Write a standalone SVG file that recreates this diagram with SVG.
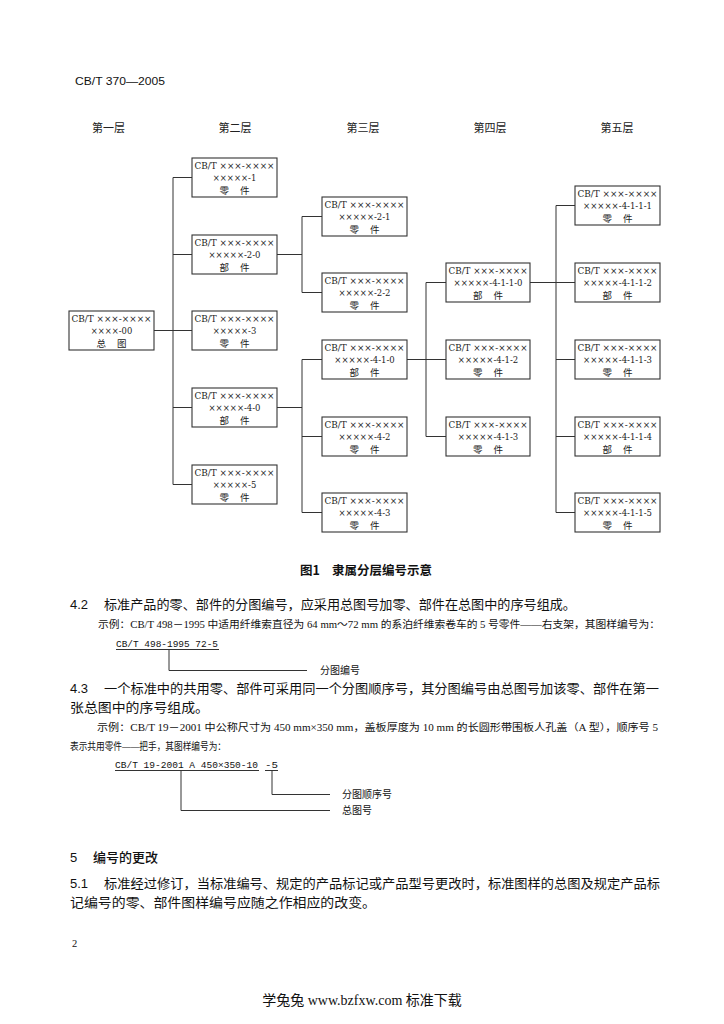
<svg xmlns="http://www.w3.org/2000/svg" width="724" height="1024" viewBox="0 0 724 1024">
<style>
.box{fill:#fff;stroke:#333;stroke-width:1.1}
.ln{stroke:#333;stroke-width:1;fill:none}
.t1{font-family:"DejaVu Serif","Liberation Serif",serif;font-size:8.5px;fill:#222}
.tc{text-anchor:middle}
.cjk{font-family:"Noto Sans CJK SC",sans-serif;font-size:9.5px;fill:#222}
.body{font-family:"Liberation Serif","Noto Sans CJK SC",serif;font-size:13px;fill:#111}
.small{font-family:"Liberation Serif","Noto Sans CJK SC",serif;font-size:10px;fill:#111}
.code{font-family:"Liberation Mono","Noto Sans CJK SC",monospace;font-size:9.5px;fill:#111}
.num{font-family:"Liberation Sans","Noto Sans CJK SC",sans-serif;font-size:13px;fill:#111}
.hd{font-family:"Noto Sans CJK SC",sans-serif;font-size:13px;fill:#111;font-weight:500}
.layer{font-family:"Noto Sans CJK SC",sans-serif;font-size:11px;fill:#222;text-anchor:middle}
</style>
<rect width="724" height="1024" fill="#fff"/>
<text x="75" y="85" font-family="Liberation Sans, sans-serif" font-size="11" fill="#111" textLength="90" lengthAdjust="spacingAndGlyphs">CB/T 370—2005</text>
<g id="layers">
<text class="layer" x="108.5" y="132">第一层</text>
<text class="layer" x="235" y="132">第二层</text>
<text class="layer" x="363" y="132">第三层</text>
<text class="layer" x="490" y="132">第四层</text>
<text class="layer" x="617" y="132">第五层</text>
</g>
<g id="connectors">
<path class="ln" d="M154 330.5H192M173 177.5V484.5M173 177.5H192M173 254.5H192M173 407.5H192M173 484.5H192"/>
<path class="ln" d="M277 254.5H302M302 216.5V292.5M302 216.5H322M302 292.5H322"/>
<path class="ln" d="M277 407.5H302M302 359.5V512.5M302 359.5H322M302 436.5H322M302 512.5H322"/>
<path class="ln" d="M407 359.5H426M426 282.5V436.5M426 282.5H446M426 359.5H446M426 436.5H446"/>
<path class="ln" d="M530 282.5H556M556 205.5V512.5M556 205.5H575M556 282.5H575M556 359.5H575M556 436.5H575M556 512.5H575"/>
</g>
<g id="n-00"><rect class="box" x="69" y="311" width="85" height="39"/><text class="t1" x="71.5" y="322" textLength="80" lengthAdjust="spacingAndGlyphs">CB/T ×××-××××</text><text class="t1 tc" x="111.5" y="334" textLength="41.5" lengthAdjust="spacingAndGlyphs">××××-00</text><text class="cjk tc" x="111.5" y="346.5" textLength="30" lengthAdjust="spacing">总 图</text></g>
<g id="n-1"><rect class="box" x="192" y="158" width="85" height="39"/><text class="t1" x="194.5" y="169" textLength="80" lengthAdjust="spacingAndGlyphs">CB/T ×××-××××</text><text class="t1 tc" x="234.5" y="181" textLength="43.5" lengthAdjust="spacingAndGlyphs">×××××-1</text><text class="cjk tc" x="234.5" y="193.5" textLength="30" lengthAdjust="spacing">零 件</text></g>
<g id="n-2-0"><rect class="box" x="192" y="235" width="85" height="39"/><text class="t1" x="194.5" y="246" textLength="80" lengthAdjust="spacingAndGlyphs">CB/T ×××-××××</text><text class="t1 tc" x="234.5" y="258" textLength="52" lengthAdjust="spacingAndGlyphs">×××××-2-0</text><text class="cjk tc" x="234.5" y="270.5" textLength="30" lengthAdjust="spacing">部 件</text></g>
<g id="n-3"><rect class="box" x="192" y="311" width="85" height="39"/><text class="t1" x="194.5" y="322" textLength="80" lengthAdjust="spacingAndGlyphs">CB/T ×××-××××</text><text class="t1 tc" x="234.5" y="334" textLength="43.5" lengthAdjust="spacingAndGlyphs">×××××-3</text><text class="cjk tc" x="234.5" y="346.5" textLength="30" lengthAdjust="spacing">零 件</text></g>
<g id="n-4-0"><rect class="box" x="192" y="388" width="85" height="39"/><text class="t1" x="194.5" y="399" textLength="80" lengthAdjust="spacingAndGlyphs">CB/T ×××-××××</text><text class="t1 tc" x="234.5" y="411" textLength="52" lengthAdjust="spacingAndGlyphs">×××××-4-0</text><text class="cjk tc" x="234.5" y="423.5" textLength="30" lengthAdjust="spacing">部 件</text></g>
<g id="n-5"><rect class="box" x="192" y="465" width="85" height="39"/><text class="t1" x="194.5" y="476" textLength="80" lengthAdjust="spacingAndGlyphs">CB/T ×××-××××</text><text class="t1 tc" x="234.5" y="488" textLength="43.5" lengthAdjust="spacingAndGlyphs">×××××-5</text><text class="cjk tc" x="234.5" y="500.5" textLength="30" lengthAdjust="spacing">零 件</text></g>
<g id="n-2-1"><rect class="box" x="322" y="197" width="85" height="39"/><text class="t1" x="324.5" y="208" textLength="80" lengthAdjust="spacingAndGlyphs">CB/T ×××-××××</text><text class="t1 tc" x="364.5" y="220" textLength="52" lengthAdjust="spacingAndGlyphs">×××××-2-1</text><text class="cjk tc" x="364.5" y="232.5" textLength="30" lengthAdjust="spacing">零 件</text></g>
<g id="n-2-2"><rect class="box" x="322" y="273" width="85" height="39"/><text class="t1" x="324.5" y="284" textLength="80" lengthAdjust="spacingAndGlyphs">CB/T ×××-××××</text><text class="t1 tc" x="364.5" y="296" textLength="52" lengthAdjust="spacingAndGlyphs">×××××-2-2</text><text class="cjk tc" x="364.5" y="308.5" textLength="30" lengthAdjust="spacing">零 件</text></g>
<g id="n-4-1-0"><rect class="box" x="322" y="340" width="85" height="39"/><text class="t1" x="324.5" y="351" textLength="80" lengthAdjust="spacingAndGlyphs">CB/T ×××-××××</text><text class="t1 tc" x="364.5" y="363" textLength="60.5" lengthAdjust="spacingAndGlyphs">×××××-4-1-0</text><text class="cjk tc" x="364.5" y="375.5" textLength="30" lengthAdjust="spacing">部 件</text></g>
<g id="n-4-2"><rect class="box" x="322" y="417" width="85" height="39"/><text class="t1" x="324.5" y="428" textLength="80" lengthAdjust="spacingAndGlyphs">CB/T ×××-××××</text><text class="t1 tc" x="364.5" y="440" textLength="52" lengthAdjust="spacingAndGlyphs">×××××-4-2</text><text class="cjk tc" x="364.5" y="452.5" textLength="30" lengthAdjust="spacing">零 件</text></g>
<g id="n-4-3"><rect class="box" x="322" y="493" width="85" height="39"/><text class="t1" x="324.5" y="504" textLength="80" lengthAdjust="spacingAndGlyphs">CB/T ×××-××××</text><text class="t1 tc" x="364.5" y="516" textLength="52" lengthAdjust="spacingAndGlyphs">×××××-4-3</text><text class="cjk tc" x="364.5" y="528.5" textLength="30" lengthAdjust="spacing">零 件</text></g>
<g id="n-4-1-1-0"><rect class="box" x="446" y="263" width="84" height="39"/><text class="t1" x="448.5" y="274" textLength="79" lengthAdjust="spacingAndGlyphs">CB/T ×××-××××</text><text class="t1 tc" x="488" y="286" textLength="69" lengthAdjust="spacingAndGlyphs">×××××-4-1-1-0</text><text class="cjk tc" x="488" y="298.5" textLength="30" lengthAdjust="spacing">部 件</text></g>
<g id="n-4-1-2"><rect class="box" x="446" y="340" width="84" height="39"/><text class="t1" x="448.5" y="351" textLength="79" lengthAdjust="spacingAndGlyphs">CB/T ×××-××××</text><text class="t1 tc" x="488" y="363" textLength="60.5" lengthAdjust="spacingAndGlyphs">×××××-4-1-2</text><text class="cjk tc" x="488" y="375.5" textLength="30" lengthAdjust="spacing">零 件</text></g>
<g id="n-4-1-3"><rect class="box" x="446" y="417" width="84" height="39"/><text class="t1" x="448.5" y="428" textLength="79" lengthAdjust="spacingAndGlyphs">CB/T ×××-××××</text><text class="t1 tc" x="488" y="440" textLength="60.5" lengthAdjust="spacingAndGlyphs">×××××-4-1-3</text><text class="cjk tc" x="488" y="452.5" textLength="30" lengthAdjust="spacing">零 件</text></g>
<g id="n-4-1-1-1"><rect class="box" x="575" y="186" width="85" height="39"/><text class="t1" x="577.5" y="197" textLength="80" lengthAdjust="spacingAndGlyphs">CB/T ×××-××××</text><text class="t1 tc" x="617.5" y="209" textLength="69" lengthAdjust="spacingAndGlyphs">×××××-4-1-1-1</text><text class="cjk tc" x="617.5" y="221.5" textLength="30" lengthAdjust="spacing">零 件</text></g>
<g id="n-4-1-1-2"><rect class="box" x="575" y="263" width="85" height="39"/><text class="t1" x="577.5" y="274" textLength="80" lengthAdjust="spacingAndGlyphs">CB/T ×××-××××</text><text class="t1 tc" x="617.5" y="286" textLength="69" lengthAdjust="spacingAndGlyphs">×××××-4-1-1-2</text><text class="cjk tc" x="617.5" y="298.5" textLength="30" lengthAdjust="spacing">部 件</text></g>
<g id="n-4-1-1-3"><rect class="box" x="575" y="340" width="85" height="39"/><text class="t1" x="577.5" y="351" textLength="80" lengthAdjust="spacingAndGlyphs">CB/T ×××-××××</text><text class="t1 tc" x="617.5" y="363" textLength="69" lengthAdjust="spacingAndGlyphs">×××××-4-1-1-3</text><text class="cjk tc" x="617.5" y="375.5" textLength="30" lengthAdjust="spacing">零 件</text></g>
<g id="n-4-1-1-4"><rect class="box" x="575" y="417" width="85" height="39"/><text class="t1" x="577.5" y="428" textLength="80" lengthAdjust="spacingAndGlyphs">CB/T ×××-××××</text><text class="t1 tc" x="617.5" y="440" textLength="69" lengthAdjust="spacingAndGlyphs">×××××-4-1-1-4</text><text class="cjk tc" x="617.5" y="452.5" textLength="30" lengthAdjust="spacing">部 件</text></g>
<g id="n-4-1-1-5"><rect class="box" x="575" y="493" width="85" height="39"/><text class="t1" x="577.5" y="504" textLength="80" lengthAdjust="spacingAndGlyphs">CB/T ×××-××××</text><text class="t1 tc" x="617.5" y="516" textLength="69" lengthAdjust="spacingAndGlyphs">×××××-4-1-1-5</text><text class="cjk tc" x="617.5" y="528.5" textLength="30" lengthAdjust="spacing">零 件</text></g>
<g id="caption"><text font-family="Noto Sans CJK SC, sans-serif" font-size="12.5" font-weight="bold" fill="#111" y="575"><tspan x="300">图1</tspan><tspan x="332" textLength="100" lengthAdjust="spacing">隶属分层编号示意</tspan></text></g>
<g id="sec4-2">
<text class="num" x="70" y="609">4.2</text>
<text class="body" x="104" y="609" textLength="472" lengthAdjust="spacingAndGlyphs">标准产品的零、部件的分图编号，应采用总图号加零、部件在总图中的序号组成。</text>
<text class="small" x="98" y="628" textLength="562" lengthAdjust="spacingAndGlyphs">示例：CB/T 498－1995 中适用纤维索直径为 64 mm～72 mm 的系泊纤维索卷车的 5 号零件——右支架，其图样编号为：</text>
<text class="code" x="116" y="647" textLength="102" lengthAdjust="spacingAndGlyphs">CB/T 498-1995 72-5</text>
<path class="ln" d="M116 649.5H219M169 649.5V670.5H307"/>
<text class="small" x="320" y="674" font-size="10.5">分图编号</text>
</g>
<g id="sec4-3">
<text class="num" x="70" y="693">4.3</text>
<text class="body" x="104" y="693" textLength="555" lengthAdjust="spacingAndGlyphs">一个标准中的共用零、部件可采用同一个分图顺序号，其分图编号由总图号加该零、部件在第一</text>
<text class="body" x="70" y="712" textLength="139" lengthAdjust="spacingAndGlyphs">张总图中的序号组成。</text>
<text class="small" x="97" y="731" textLength="561" lengthAdjust="spacingAndGlyphs">示例：CB/T 19－2001 中公称尺寸为 450 mm×350 mm，盖板厚度为 10 mm 的长圆形带围板人孔盖（A 型），顺序号 5</text>
<text class="small" x="70" y="750" textLength="156" lengthAdjust="spacingAndGlyphs">表示共用零件——把手，其图样编号为：</text>
<text class="code" x="115" y="768" textLength="143" lengthAdjust="spacingAndGlyphs">CB/T 19-2001 A 450×350-10</text>
<text class="code" x="265" y="768" textLength="13" lengthAdjust="spacingAndGlyphs">-5</text>
<path class="ln" d="M115 770.5H259M265 770.5H278M272 770.5V794.5H330M181 770.5V810.5H330"/>
<text class="small" x="342" y="798" font-size="10.5">分图顺序号</text>
<text class="small" x="342" y="814" font-size="10.5">总图号</text>
</g>
<g id="sec5">
<text class="num" x="70" y="862">5</text>
<text class="hd" x="93" y="862">编号的更改</text>
<text class="num" x="70" y="888">5.1</text>
<text class="body" x="104" y="888" textLength="556" lengthAdjust="spacingAndGlyphs">标准经过修订，当标准编号、规定的产品标记或产品型号更改时，标准图样的总图及规定产品标</text>
<text class="body" x="70" y="907" textLength="306" lengthAdjust="spacingAndGlyphs">记编号的零、部件图样编号应随之作相应的改变。</text>
</g>
<text x="72" y="947" font-family="Liberation Serif, serif" font-size="10.5" fill="#111">2</text>
<text x="362" y="1005" text-anchor="middle" font-family="Liberation Serif, Noto Sans CJK SC, serif" font-size="14" fill="#111">学兔兔 www.bzfxw.com 标准下载</text>
</svg>
